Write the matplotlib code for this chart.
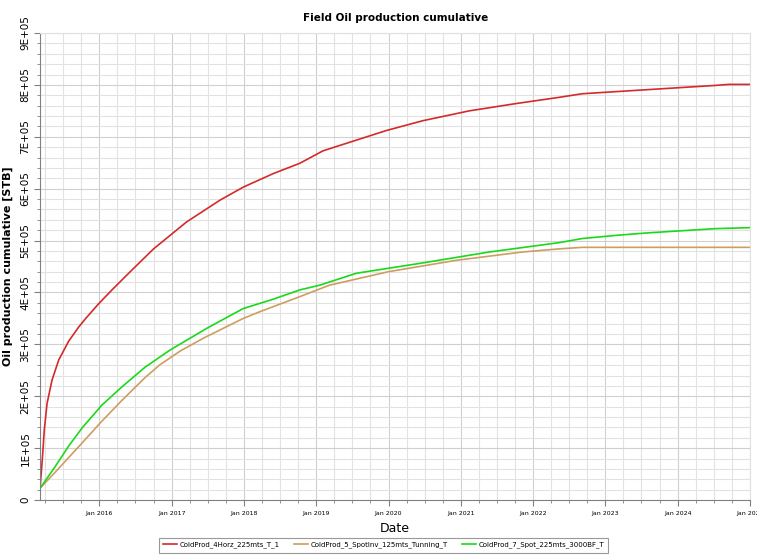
import matplotlib
matplotlib.use("Agg")
import matplotlib.pyplot as plt
import matplotlib.dates as mdates
from matplotlib.ticker import MultipleLocator, FuncFormatter
import pandas as pd

# series
red_dates = ["2015-03-08", "2015-03-20", "2015-03-29", "2015-04-12", "2015-05-07",
             "2015-06-10", "2015-07-30", "2015-09-18", "2015-10-22", "2015-12-28",
             "2016-03-05", "2016-06-05", "2016-10-01", "2017-03-17", "2017-09-02",
             "2017-12-28", "2018-05-28", "2018-10-10", "2019-02-04", "2019-12-20",
             "2020-06-22", "2021-02-12", "2021-10-05", "2022-05-11", "2022-09-06",
             "2023-08-07", "2024-07-08", "2024-09-14", "2025-01-01"]
red_vals = [25000, 83000, 135000, 186000, 231000,
            270000, 306000, 333000, 349000, 378000,
            405000, 440000, 484000, 536000, 578000,
            603000, 629000, 649000, 673000, 712000,
            731000, 750000, 764000, 776000, 783000,
            791000, 799000, 801000, 801000]

tan_dates = ["2015-03-08", "2015-05-24", "2015-10-06", "2016-01-14", "2016-04-24",
             "2016-08-19", "2016-11-03", "2017-02-12", "2017-06-10", "2017-12-28",
             "2018-03-22", "2018-10-10", "2019-03-08", "2019-12-31", "2020-12-08",
             "2021-11-07", "2022-05-11", "2022-09-06", "2025-01-01"]
tan_vals = [23000, 54000, 110000, 152000, 192000,
            236000, 261000, 287000, 312000, 350000,
            363000, 392000, 414000, 440000, 462000,
            478000, 484000, 487000, 487000]

green_dates = ["2015-03-08", "2015-05-24", "2015-07-30", "2015-10-06", "2016-01-14",
               "2016-04-24", "2016-08-19", "2016-12-23", "2017-06-27", "2017-12-28",
               "2018-05-28", "2018-10-10", "2019-01-18", "2019-07-22", "2020-06-22",
               "2021-05-24", "2022-05-11", "2022-09-06", "2023-02-21", "2023-08-07",
               "2024-01-23", "2024-07-08", "2025-01-01"]
green_vals = [23000, 65000, 104000, 139000, 183000,
              218000, 256000, 289000, 331000, 369000,
              387000, 405000, 414000, 437000, 457000,
              478000, 496000, 504000, 510000, 515000,
              519000, 523000, 525000]

names = ["ColdProd_4Horz_225mts_T_1",
         "ColdProd_5_SpotInv_125mts_Tunning_T",
         "ColdProd_7_Spot_225mts_3000BF_T"]

fig = plt.figure(figsize=(7.57, 5.55), dpi=100)
ax = fig.add_axes([0.053, 0.099, 0.938, 0.8415])

ax.plot(pd.to_datetime(red_dates), red_vals, color="#d42a2a", lw=1.2, label=names[0])
ax.plot(pd.to_datetime(tan_dates), tan_vals, color="#cd9d62", lw=1.2, label=names[1])
ax.plot(pd.to_datetime(green_dates), green_vals, color="#19d919", lw=1.2, label=names[2])

ax.set_xlim(pd.Timestamp("2015-03-08"), pd.Timestamp("2025-01-01"))
ax.set_ylim(0, 900000)

ax.xaxis.set_major_locator(mdates.YearLocator())
ax.xaxis.set_minor_locator(mdates.MonthLocator(bymonth=[1, 4, 7, 10]))
ax.xaxis.set_major_formatter(mdates.DateFormatter("Jan %Y"))
ax.yaxis.set_major_locator(MultipleLocator(100000))
ax.yaxis.set_minor_locator(MultipleLocator(20000))
ax.yaxis.set_major_formatter(FuncFormatter(lambda v, p: "0" if v == 0 else "%dE+05" % round(v / 1e5)))

ax.grid(which="major", color="#d0d0d0", lw=0.8)
ax.grid(which="minor", color="#e2e2e2", lw=0.8)
ax.set_axisbelow(True)

for s in ["top", "right"]:
    ax.spines[s].set_color("#e0e0e0")
for s in ["left", "bottom"]:
    ax.spines[s].set_color("#808080")

ax.tick_params(axis="x", which="major", labelsize=4.5, length=4, color="#808080", pad=4)
ax.tick_params(axis="x", which="minor", length=2, color="#808080")
ax.tick_params(axis="y", which="major", labelsize=7.5, length=4, color="#808080", pad=3)
ax.tick_params(axis="y", which="minor", length=2, color="#808080")
for lab in ax.get_yticklabels():
    lab.set_rotation(90)
    lab.set_va("center")

ax.set_xlabel("Date", fontsize=9, labelpad=4)
ax.set_ylabel("Oil production cumulative [STB]", fontsize=8, fontweight="bold", labelpad=5)
ax.set_title("Field Oil production cumulative", fontsize=7.5, fontweight="bold", pad=9)

leg = fig.legend(loc="lower center", bbox_to_anchor=(0.507, -0.002), ncol=3, fontsize=5.0,
                 frameon=True, fancybox=False, edgecolor="#808080", handlelength=2.0,
                 handletextpad=0.4, columnspacing=2.0, borderpad=0.6)
leg.get_frame().set_linewidth(0.8)

fig.savefig("out.png", dpi=100)
